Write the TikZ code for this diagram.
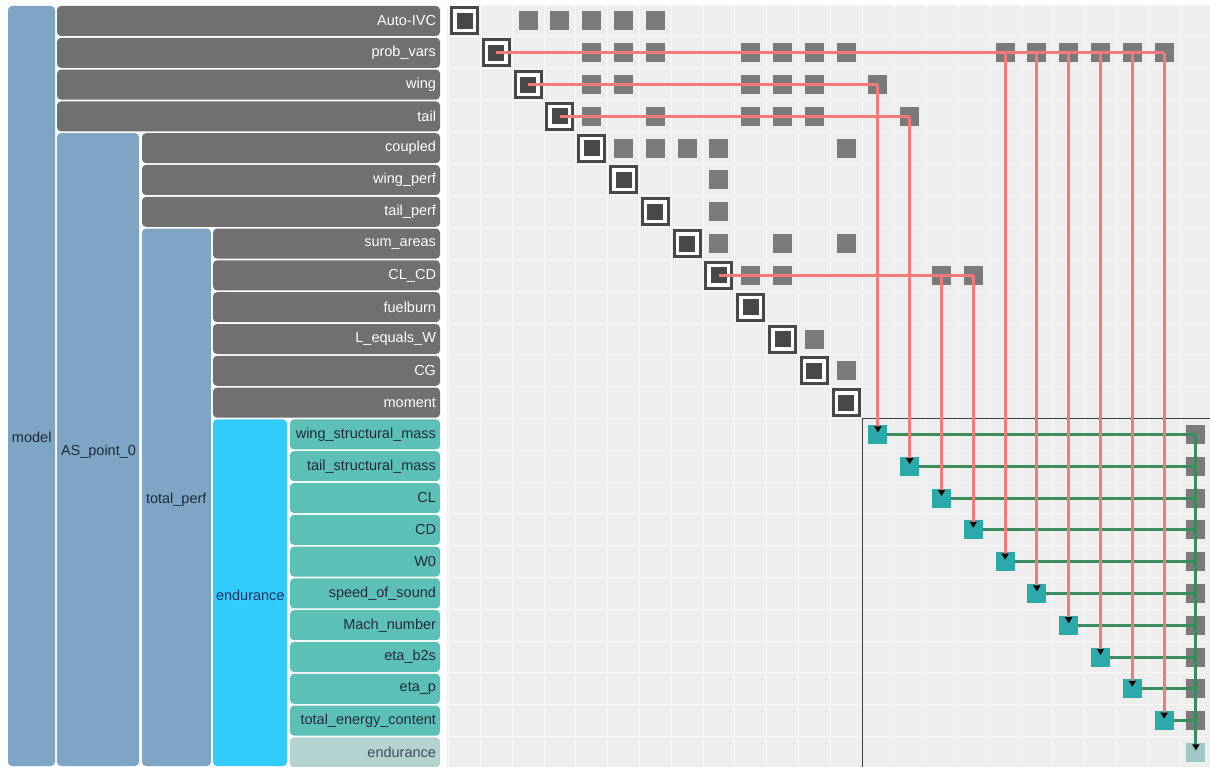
\documentclass[tikz,border=0pt]{standalone}
\usepackage{fontspec}
\setmainfont{Liberation Sans}
\usetikzlibrary{arrows.meta}
\definecolor{bargray}{RGB}{112,112,112}
\definecolor{cellgray}{RGB}{122,122,122}
\definecolor{diagdark}{RGB}{72,72,72}
\definecolor{modelblue}{RGB}{126,166,196}
\definecolor{endcyan}{RGB}{51,204,255}
\definecolor{leafteal}{RGB}{92,192,182}
\definecolor{cellteal}{RGB}{42,170,168}
\definecolor{endleaf}{RGB}{180,210,208}
\definecolor{endcell}{RGB}{160,198,198}
\definecolor{redline}{RGB}{242,122,122}
\definecolor{greenline}{RGB}{58,140,92}
\definecolor{matbg}{RGB}{238,238,238}
\definecolor{gridc}{RGB}{249,249,249}
\definecolor{darktext}{RGB}{30,42,58}
\definecolor{endtext}{RGB}{20,50,95}
\begin{document}
\begin{tikzpicture}[x=1pt,y=-1pt,
  every node/.style={font=\fontsize{14.5}{17}\selectfont, inner sep=0pt, outer sep=0pt},
  bar/.style={fill=bargray, rounded corners=4pt, text=white, minimum height=30pt, inner xsep=4pt, align=right, anchor=east},
  leaf/.style={bar, fill=leafteal, text=darktext},
  endleafbar/.style={bar, fill=endleaf, text=darktext!85},
  group/.style={fill=modelblue, rounded corners=4pt, anchor=north west},
  glabel/.style={text=darktext, anchor=west},
  offcell/.style={fill=cellgray, minimum size=19pt},
  diagcell/.style={draw=diagdark, line width=3pt, fill=white, minimum size=26pt},
  diaginner/.style={fill=diagdark, minimum size=16pt},
  tealcell/.style={fill=cellteal, minimum size=19pt},
  endcellst/.style={fill=endcell, minimum size=19pt},
  rline/.style={draw=redline, line width=3pt},
  gline/.style={draw=greenline, line width=3pt},
  tipped/.style={-{Triangle[color=black,fill=black,length=6pt,width=7pt]}, shorten >=2pt},
  boxline/.style={draw=black!75, line width=1pt}
]
\useasboundingbox (0,0) rectangle (1210,767);
\fill[white] (0,0) rectangle (1210,767);

% ---------- left hierarchy ----------
\node[group, minimum width=47pt, minimum height=760pt] (gmodel) at (8,6) {};
\node[group, minimum width=82pt, minimum height=632.8pt] (gas) at (57,133.2) {};
\node[group, minimum width=69pt, minimum height=537.4pt] (gtp) at (142,228.6) {};
\node[group, fill=endcyan, minimum width=74pt, minimum height=346.6pt] (gend) at (213,419.4) {};
\node[glabel] (lmodel) at (12,437) {model};
\node[glabel] (las) at (61,452) {AS\_point\_0};
\node[glabel] (ltp) at (146,500) {total\_perf};
\node[glabel, text=endtext] (lend) at (216,595) {endurance};

\foreach \i/\lab/\xl in {0/Auto-IVC/57, 1/prob\_vars/57, 2/wing/57, 3/tail/57,
  4/coupled/142, 5/wing\_perf/142, 6/tail\_perf/142,
  7/sum\_areas/213, 8/CL\_CD/213, 9/fuelburn/213, 10/L\_equals\_W/213, 11/CG/213, 12/moment/213}{
  \pgfmathsetmacro\w{440-\xl-8}
  \node[bar, text width=\w pt] (r\i) at (440,{21+31.8*\i}) {\lab};
}
\foreach \i/\lab in {13/wing\_structural\_mass, 14/tail\_structural\_mass, 15/CL, 16/CD, 17/W0,
  18/speed\_of\_sound, 19/Mach\_number, 20/eta\_b2s, 21/eta\_p, 22/total\_energy\_content}{
  \node[leaf, text width=142pt] (r\i) at (440,{21+31.8*\i}) {\lab};
}
\node[endleafbar, text width=142pt] (r23) at (440,{21+31.8*23}) {endurance};

% ---------- matrix background ----------
\fill[matbg] (447,5) rectangle (1210,767);
\foreach \k in {0,...,24}{
  \draw[gridc, line width=0.8pt] ({448.6+31.8*\k},5) -- ({448.6+31.8*\k},767);
  \draw[gridc, line width=0.8pt] (447,{5+31.8*\k}) -- (1210,{5+31.8*\k});
}
\draw[boxline] (862.4,418.4) -- (1210,418.4);
\draw[boxline] (862.4,418.4) -- (862.4,767);

% ---------- off-diagonal cells ----------
\foreach \i/\j in {0/2,0/3,0/4,0/5,0/6,
  1/4,1/5,1/6,1/9,1/10,1/11,1/12,1/17,1/18,1/19,1/20,1/21,1/22,
  2/4,2/5,2/9,2/10,2/11,2/13,
  3/4,3/6,3/9,3/10,3/11,3/14,
  4/5,4/6,4/7,4/8,4/12,
  5/8,6/8,
  7/8,7/10,7/12,
  8/9,8/10,8/15,8/16,
  10/11,11/12,
  13/23,14/23,15/23,16/23,17/23,18/23,19/23,20/23,21/23,22/23}{
  \node[offcell] (o\i-\j) at ({464.5+31.8*\j},{21+31.8*\i}) {};
}

% ---------- diagonal cells ----------
\foreach \i in {0,...,12}{
  \node[diagcell] (d\i) at ({464.5+31.8*\i},{21+31.8*\i}) {};
  \node[diaginner] (di\i) at (d\i.center) {};
}
\foreach \i in {13,...,22}{
  \node[tealcell] (d\i) at ({464.5+31.8*\i},{21+31.8*\i}) {};
}
\node[endcellst] (d23) at ({464.5+31.8*23},{21+31.8*23}) {};

% ---------- green connectors ----------
\foreach \i in {13,...,22}{
  \draw[gline] (d\i.east) -- (o\i-23.center);
}
\draw[gline, tipped] (o13-23.center) -- (d23.center);

% ---------- red connectors ----------
\draw[rline] (d1.center) -- (o1-22.center);
\draw[rline] (d2.center) -- (o2-13.center);
\draw[rline] (d3.center) -- (o3-14.center);
\draw[rline] (d8.center) -- (o8-16.center);
\foreach \j in {17,...,22}{
  \draw[rline, tipped] (o1-\j.center) -- (d\j.center);
}
\draw[rline, tipped] (o2-13.center) -- (d13.center);
\draw[rline, tipped] (o3-14.center) -- (d14.center);
\draw[rline, tipped] (o8-15.center) -- (d15.center);
\draw[rline, tipped] (o8-16.center) -- (d16.center);
\end{tikzpicture}
\end{document}
